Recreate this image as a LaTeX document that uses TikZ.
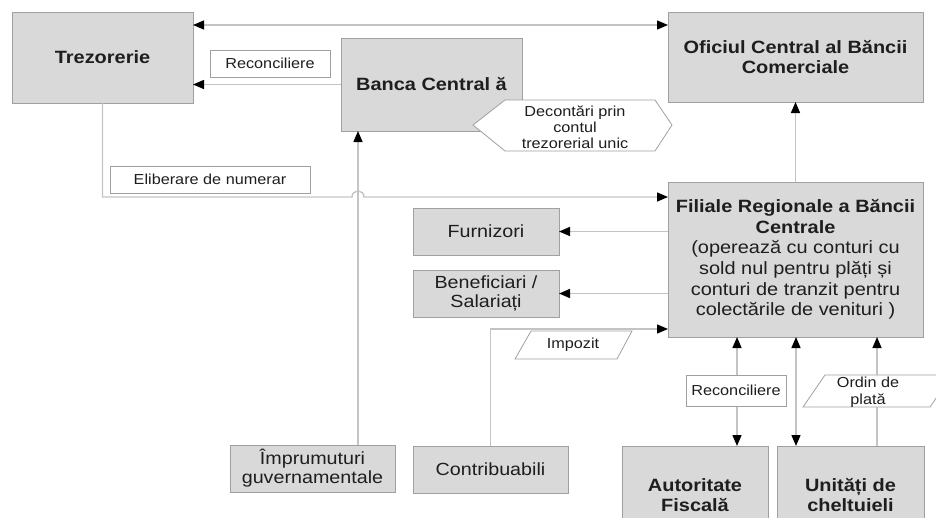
\documentclass[tikz,border=0pt]{standalone}
\usepackage{fontspec}
\setmainfont{Liberation Sans}[FakeStretch=1.12]
\usetikzlibrary{arrows.meta}
\definecolor{boxfill}{HTML}{D9D9D9}
\definecolor{boxline}{HTML}{A0A0A0}
\definecolor{wirecol}{HTML}{C4C4C4}
\definecolor{ink}{HTML}{1E1E1E}

\begin{document}
\begin{tikzpicture}[x=1pt,y=-1pt,
  box/.style={draw=boxline, fill=boxfill, line width=1pt, inner sep=0pt, outer sep=0pt,
    align=center, text=ink, font=\fontsize{17.6}{20.6}\selectfont},
  bigbox/.style={box, font=\bfseries\fontsize{17.8}{20.6}\selectfont},
  tag/.style={draw=boxline, fill=white, line width=0.8pt, inner sep=0pt, outer sep=0pt,
    align=center, text=ink, font=\fontsize{14.5}{16.5}\selectfont},
  tagtext/.style={inner sep=0pt, align=center, text=ink, font=\fontsize{14.5}{16.5}\selectfont},
  wire/.style={draw=wirecol, line width=1.4pt},
  tip/.style={-{Triangle[width=9pt,length=11pt,color=black]}},
  tips/.style={{Triangle[width=9pt,length=11pt,color=black]}-{Triangle[width=9pt,length=11pt,color=black]}},
]
\clip (0,0) rectangle (936,517);

% boxes
\node[bigbox, minimum width=181pt, minimum height=91pt] (trez) at (102.5,57.5) {Trezorerie};
\node[bigbox, minimum width=255pt, minimum height=90pt] (ofic) at (795.5,57) {Oficiul Central al Băncii\\Comerciale};
\node[bigbox, minimum width=181pt, minimum height=93pt] (banca) at (431.5,84.5) {Banca Central ă};
\node[box, minimum width=255pt, minimum height=155pt, font=\fontsize{17.8}{20.6}\selectfont] (filiale) at (795.5,259.5)
  {\textbf{Filiale Regionale a Băncii}\\\textbf{Centrale}\\(operează cu conturi cu\\sold nul pentru plăți și\\conturi de tranzit pentru\\colectările de venituri )};
\node[box, minimum width=146pt, minimum height=47pt] (furn) at (486,231.5) {Furnizori};
\node[box, minimum width=146pt, minimum height=47pt, font=\fontsize{17.6}{18.5}\selectfont] (benef) at (486,293.5) {Beneficiari /\\Salariați};
\node[box, minimum width=155pt, minimum height=47pt] (contrib) at (490.5,469.5) {Contribuabili};
\node[box, minimum width=165pt, minimum height=47pt, font=\fontsize{17.6}{19}\selectfont] (impr) at (312.5,468.5) {Împrumuturi\\guvernamentale};
\node[bigbox, minimum width=146pt, minimum height=98pt] (autor) at (695,495) {Autoritate\\Fiscală};
\node[bigbox, minimum width=147pt, minimum height=98pt] (unit) at (850.5,495) {Unități de\\cheltuieli};

% helper coordinates for connector rows and columns
\coordinate (ytop) at (0,25);
\coordinate (ycash) at (0,197);
\coordinate (ytax) at (0,329);
\coordinate (xloan) at (358,0);
\coordinate (hopL) at (352,197);
\coordinate (hopR) at (364,197);
\coordinate (xfisc) at (737,0);
\coordinate (xunit) at (796,0);
\coordinate (xord) at (877,0);

% connectors
\draw[wire, tips] (trez.east |- ytop) -- (ofic.west |- ytop);
\draw[wire, tip] (banca.west) -- (banca.west -| trez.east);
\draw[wire, tip] (trez.south) |- (hopL) .. controls (352,189) and (364,189) .. (hopR) -- (filiale.west |- ycash);
\draw[wire, tip] (impr.north -| xloan) -- (banca.south -| xloan);
\draw[wire, tip] (ofic.south |- filiale.north) -- (ofic.south);
\draw[wire, tip] (filiale.west |- furn.east) -- (furn.east);
\draw[wire, tip] (filiale.west |- benef.east) -- (benef.east);
\draw[wire, tip] (contrib.north) |- (filiale.west |- ytax);
\draw[wire, tips] (filiale.south -| xfisc) -- (autor.north -| xfisc);
\draw[wire, tips] (filiale.south -| xunit) -- (unit.north -| xunit);
\draw[wire, tip] (unit.north -| xord) -- (filiale.south -| xord);

% labels on the connectors
\node[tag, minimum width=120pt, minimum height=27pt] (rec1) at (270,63.5) {Reconciliere};
\node[tag, minimum width=200pt, minimum height=27pt] (elib) at (210,179.5) {Eliberare de numerar};
\node[tag, minimum width=100pt, minimum height=31pt] (rec2) at (736,390.5) {Reconciliere};

\draw[draw=boxline, fill=white, line width=0.8pt] (473,125) -- (505,100) -- (655,100) -- (672,125) -- (655,151) -- (505,151) -- cycle;
\node[tagtext, font=\fontsize{14.5}{15.8}\selectfont] (decont) at (575,127) {Decontări prin\\contul\\trezorerial unic};

\draw[draw=boxline, fill=white, line width=0.8pt] (531,331) -- (632,331) -- (617,359) -- (515,359) -- cycle;
\node[tagtext] (impoz) at (573,345) {Impozit};

\draw[draw=boxline, fill=white, line width=0.8pt] (825,375) -- (952,375) -- (930,407) -- (803,407) -- cycle;
\node[tagtext] (ordin) at (868,392) {Ordin de\\plată};
\end{tikzpicture}
\end{document}
